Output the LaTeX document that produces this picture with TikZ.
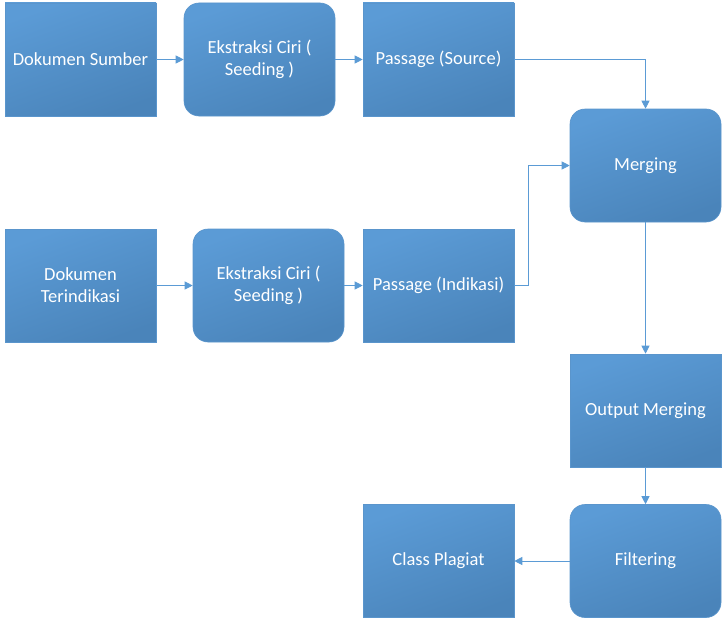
\documentclass[tikz,border=0pt]{standalone}
\usepackage{fontspec}
\setmainfont{Carlito}
\usetikzlibrary{arrows.meta}
\definecolor{boxtop}{HTML}{5B9BD6}
\definecolor{boxmid}{HTML}{4F8BC4}
\definecolor{boxbot}{HTML}{4A84BA}
\definecolor{boxline}{HTML}{5A95CC}
\definecolor{linkblue}{HTML}{5B9BD5}
\tikzset{
  block/.style={minimum width=151pt, minimum height=113pt, inner sep=2pt,
    top color=boxtop, middle color=boxmid, bottom color=boxbot, shading angle=20,
    draw=boxline, line width=0.6pt, text=white, align=center,
    font=\fontsize{18.5}{22}\selectfont},
  roundblock/.style={block, rounded corners=15pt},
  link/.style={draw=linkblue, line width=0.9pt,
    -{Triangle[length=8pt,width=8pt,fill=linkblue]}}
}
\begin{document}
\begin{tikzpicture}[x=1pt,y=-1pt]
        \useasboundingbox (0,0) rectangle (727,626);

        \node[block] (sumber) at (80.5,59.5) {Dokumen Sumber};
        \node[roundblock] (ekstrak1) at (259.5,59.5) {Ekstraksi Ciri (\\ Seeding )};
        \node[block] (source) at (438.5,59.5) {Passage (Source)};
        \node[roundblock] (merging) at (645.5,165.5) {Merging};

        \node[block] (terindikasi) at (80.5,285.5) {Dokumen\\ Terindikasi};
        \node[roundblock] (ekstrak2) at (268.5,285.5) {Ekstraksi Ciri (\\ Seeding )};
        \node[block] (indikasi) at (438.5,285.5) {Passage (Indikasi)};

        \node[block] (output) at (645.5,410.5) {Output Merging};
        \node[roundblock] (filter) at (645.5,561) {Filtering};
        \node[block] (plagiat) at (438.5,561) {Class Plagiat};

        \draw[link] (sumber) -- (ekstrak1);
        \draw[link] (ekstrak1) -- (source);
        \draw[link] (source.east) -| (merging.north);

        \draw[link] (terindikasi) -- (ekstrak2);
        \draw[link] (ekstrak2) -- (indikasi);
        \draw[link] (indikasi.east) -- ++(14,0) |- (merging.west);

        \draw[link] (merging) -- (output);
        \draw[link] (output) -- (filter);
        \draw[link] (filter) -- (plagiat);

        \end{tikzpicture}
\end{document}
